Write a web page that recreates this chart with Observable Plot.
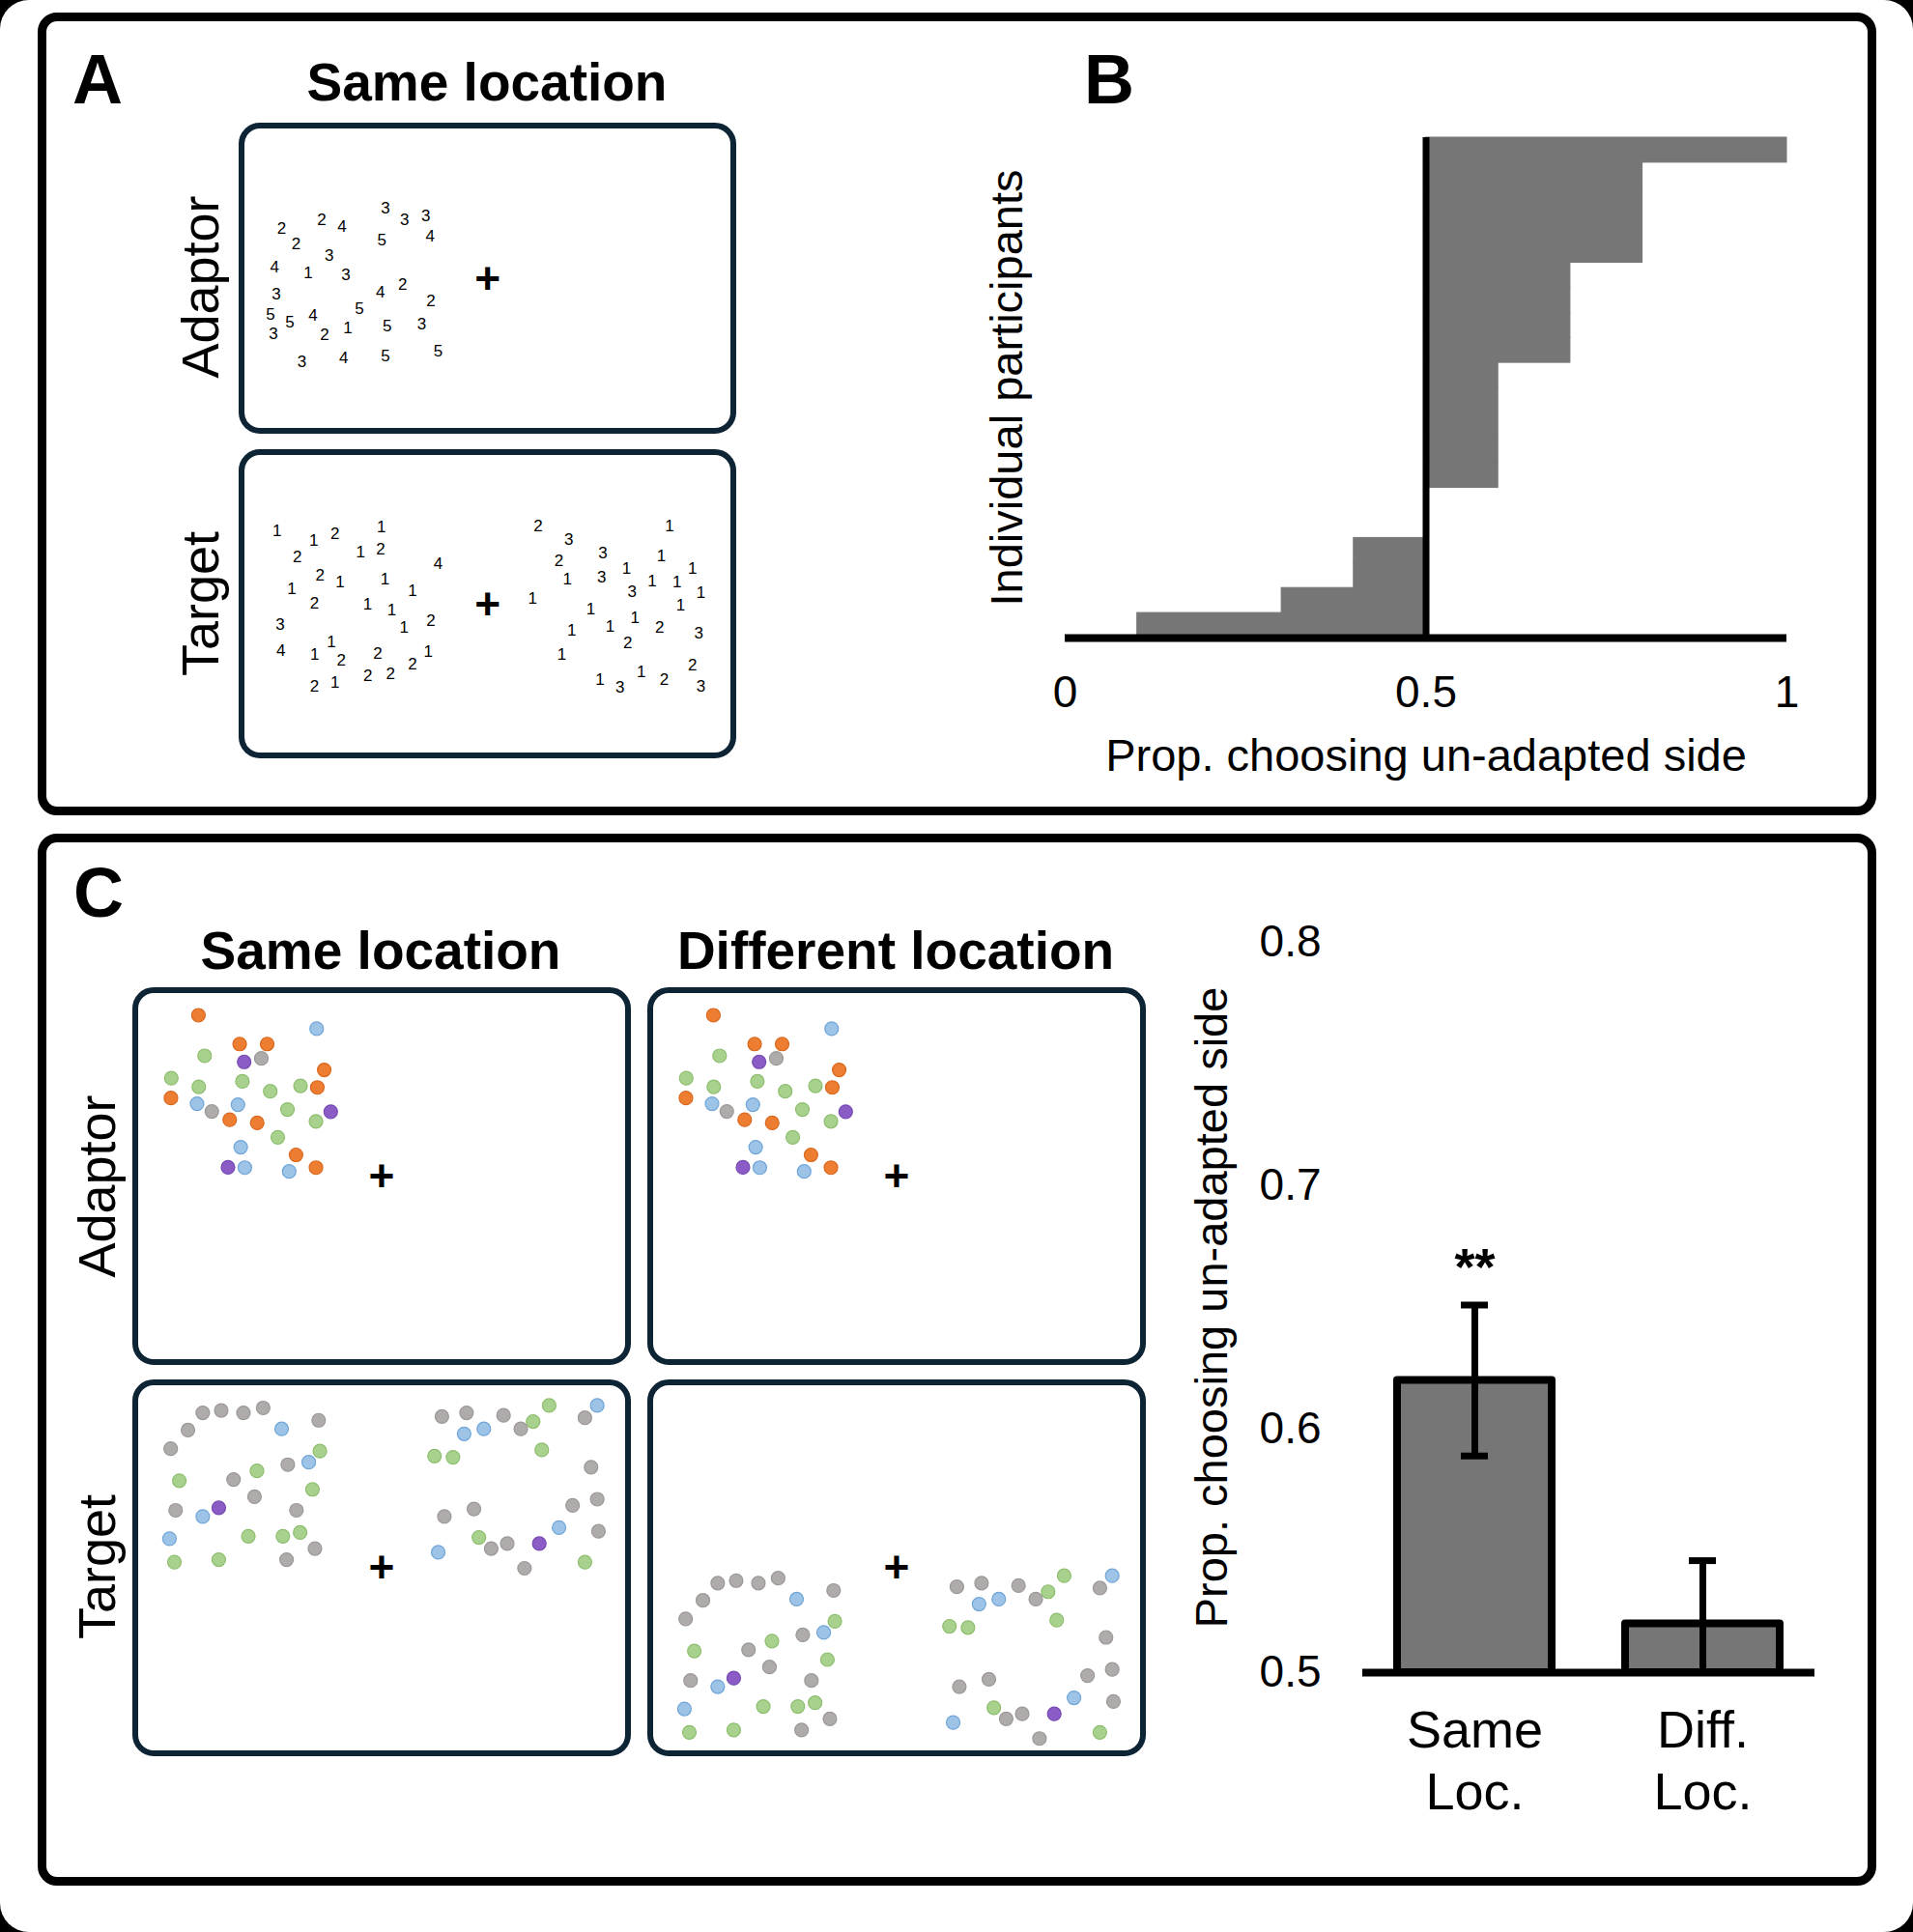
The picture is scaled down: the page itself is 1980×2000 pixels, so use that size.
<!DOCTYPE html>
<html><head><meta charset="utf-8">
<script src="https://cdn.jsdelivr.net/npm/d3@7"></script>
<script src="https://cdn.jsdelivr.net/npm/@observablehq/plot@0.6"></script>
<style>
html,body{margin:0;padding:0;background:#000;}
#page{position:relative;width:1980px;height:2000px;background:#fff;border-radius:30px;overflow:hidden;font-family:"Liberation Sans",Arial,Helvetica,sans-serif;color:#000;}
.frame{position:absolute;border:9px solid #000;border-radius:20px;box-sizing:border-box;}
.box{position:absolute;border:6px solid #0c2433;border-radius:22px;box-sizing:border-box;overflow:hidden;background:#fff;}
.box svg{display:block;}
.lbl{position:absolute;white-space:nowrap;line-height:1;}
.abs{position:absolute;}
.abs svg{overflow:visible;display:block;}
</style></head>
<body><div id="page"></div>
<script>
// ================= DATA =================
// Panel A: numeral stimuli. Positions are read in each stimulus screen's own frame.
const aAdaptorFrameX = [182, 1510], aAdaptorFrameY = [88, 1035];
const aAdaptorFix = [{x: 845, y: 565}];
const aAdaptorDigits = [
  {n:"2",x:282,y:402},{n:"2",x:392,y:375},{n:"4",x:447,y:397},{n:"3",x:566,y:338},{n:"3",x:618,y:375},
  {n:"3",x:676,y:362},{n:"5",x:556,y:438},{n:"4",x:688,y:427},{n:"2",x:322,y:453},{n:"3",x:412,y:488},
  {n:"4",x:263,y:525},{n:"1",x:355,y:542},{n:"3",x:458,y:550},{n:"4",x:552,y:605},{n:"2",x:613,y:580},
  {n:"2",x:690,y:633},{n:"3",x:268,y:611},{n:"5",x:495,y:655},{n:"5",x:252,y:675},{n:"5",x:305,y:698},
  {n:"4",x:368,y:678},{n:"3",x:260,y:737},{n:"2",x:400,y:740},{n:"1",x:463,y:718},{n:"5",x:571,y:710},
  {n:"3",x:665,y:705},{n:"5",x:710,y:790},{n:"3",x:338,y:823},{n:"4",x:452,y:812},{n:"5",x:566,y:806}
];
const aTargetFrameX = [182, 1510], aTargetFrameY = [88, 1030];
const aTargetFix = [{x: 845, y: 560}];
const aTargetDigits = [
  {n:"1",x:270,y:328},{n:"1",x:370,y:358},{n:"2",x:428,y:337},{n:"1",x:555,y:315},{n:"2",x:325,y:410},
  {n:"1",x:498,y:395},{n:"2",x:553,y:385},{n:"4",x:710,y:432},{n:"2",x:387,y:468},{n:"1",x:442,y:490},
  {n:"1",x:565,y:480},{n:"1",x:310,y:510},{n:"1",x:640,y:515},{n:"2",x:372,y:555},{n:"1",x:517,y:560},
  {n:"1",x:583,y:578},{n:"3",x:278,y:622},{n:"1",x:617,y:633},{n:"2",x:690,y:612},{n:"1",x:418,y:678},
  {n:"4",x:280,y:705},{n:"1",x:373,y:718},{n:"2",x:445,y:737},{n:"2",x:545,y:715},{n:"2",x:640,y:748},
  {n:"1",x:683,y:710},{n:"2",x:372,y:820},{n:"1",x:428,y:808},{n:"2",x:518,y:786},{n:"2",x:580,y:778},
  {n:"2",x:983,y:312},{n:"3",x:1067,y:355},{n:"3",x:1160,y:396},{n:"1",x:1342,y:312},{n:"2",x:1040,y:420},
  {n:"1",x:1320,y:405},{n:"1",x:1225,y:445},{n:"1",x:1405,y:445},{n:"1",x:1063,y:480},{n:"3",x:1157,y:475},
  {n:"1",x:1295,y:487},{n:"1",x:1363,y:490},{n:"3",x:1240,y:518},{n:"1",x:1428,y:522},{n:"1",x:968,y:540},
  {n:"1",x:1127,y:575},{n:"1",x:1373,y:563},{n:"1",x:1075,y:642},{n:"1",x:1180,y:628},{n:"1",x:1248,y:603},
  {n:"2",x:1315,y:633},{n:"2",x:1228,y:682},{n:"3",x:1422,y:650},{n:"1",x:1048,y:718},{n:"2",x:1405,y:752},
  {n:"1",x:1265,y:773},{n:"1",x:1152,y:798},{n:"3",x:1207,y:823},{n:"2",x:1328,y:797},{n:"3",x:1428,y:818}
];

// Panel B: each participant's proportion choosing the un-adapted side (sorted)
const participantProps = [0.1, 0.3, 0.4, 0.4, 0.5, 0.5, 0.6, 0.6, 0.6, 0.6, 0.6,
                          0.7, 0.7, 0.7, 0.7, 0.8, 0.8, 0.8, 0.8, 1.0];
const bTicks = [0, 0.5, 1];
const bChance = 0.5;

// Panel C: colour-dot stimuli (o orange, b blue, g green, p purple, k gray)
const cAdaptorFrameX = [118, 1535], cAdaptorFrameY = [82, 1228];
const cAdaptorFix = [{x: 825, y: 657}];
const cAdaptorDots = [
  {c:"o",x:292,y:150},{c:"b",x:636,y:192},{c:"o",x:412,y:240},{c:"o",x:492,y:240},{c:"g",x:310,y:277},
  {c:"p",x:425,y:296},{c:"k",x:475,y:285},{c:"o",x:658,y:321},{c:"g",x:213,y:347},{c:"g",x:293,y:374},
  {c:"g",x:420,y:357},{c:"g",x:501,y:388},{c:"g",x:589,y:371},{c:"o",x:638,y:376},{c:"o",x:212,y:409},
  {c:"b",x:288,y:427},{c:"k",x:331,y:451},{c:"b",x:407,y:430},{c:"g",x:551,y:445},{c:"p",x:677,y:452},
  {c:"o",x:383,y:477},{c:"o",x:463,y:487},{c:"g",x:634,y:482},{c:"g",x:523,y:532},{c:"b",x:415,y:563},
  {c:"o",x:576,y:587},{c:"p",x:378,y:626},{c:"b",x:427,y:627},{c:"b",x:556,y:639},{c:"o",x:634,y:627}
];
const cTargetFrameX = [112, 507], cTargetFrameY = [1124, 1420];
const cTargetFix = [{x: 309, y: 1272}];
const cTargetDots = [
  {c:"k",x:138,y:1175},{c:"k",x:152,y:1160},{c:"k",x:164,y:1146},{c:"k",x:179,y:1144},{c:"k",x:197,y:1146},
  {c:"k",x:213,y:1142},{c:"k",x:258,y:1152},{c:"b",x:228,y:1159},{c:"g",x:259,y:1177},{c:"k",x:233,y:1188},
  {c:"b",x:250,y:1186},{c:"g",x:145,y:1201},{c:"g",x:208,y:1193},{c:"k",x:189,y:1200},{c:"g",x:253,y:1208},
  {c:"k",x:206,y:1214},{c:"k",x:142,y:1225},{c:"b",x:164,y:1230},{c:"p",x:177,y:1223},{c:"k",x:240,y:1225},
  {c:"b",x:137,y:1248},{c:"g",x:201,y:1246},{c:"g",x:229,y:1246},{c:"g",x:243,y:1243},{c:"k",x:255,y:1256},
  {c:"g",x:141,y:1267},{c:"g",x:177,y:1265},{c:"k",x:232,y:1265},
  {c:"k",x:358,y:1149},{c:"k",x:378,y:1146},{c:"b",x:376,y:1163},{c:"b",x:392,y:1159},{c:"k",x:408,y:1148},
  {c:"k",x:422,y:1159},{c:"g",x:445,y:1140},{c:"g",x:432,y:1153},{c:"b",x:484,y:1140},{c:"k",x:474,y:1150},
  {c:"g",x:352,y:1181},{c:"g",x:367,y:1182},{c:"g",x:439,y:1176},{c:"k",x:479,y:1190},{c:"k",x:384,y:1224},
  {c:"k",x:464,y:1221},{c:"k",x:484,y:1216},{c:"b",x:453,y:1239},{c:"k",x:360,y:1230},{c:"g",x:388,y:1247},
  {c:"k",x:398,y:1256},{c:"k",x:411,y:1252},{c:"p",x:437,y:1252},{c:"k",x:485,y:1242},{c:"b",x:355,y:1259},
  {c:"k",x:425,y:1272},{c:"g",x:474,y:1267}
];
// In the different-location condition the same target pattern is shown lower on the screen
const diffLocationShiftY = 138;

// Panel C bar chart
const conditions = ["Same Loc.", "Diff. Loc."];
const conditionLabels = ["Same\nLoc.", "Diff.\nLoc."];
const meanProp = [0.62, 0.52];
const semProp = [0.031, 0.026];
const sigLabels = ["**", ""];
const cTicks = [0.5, 0.6, 0.7, 0.8];

// ================= STYLE =================
const FONT = '"Liberation Sans", Arial, Helvetica, sans-serif';
const DOT_FILL = {o:"#ED7D31", b:"#9DC3E6", g:"#A9D18E", p:"#8B5CC6", k:"#AFABAB"};
const DOT_STROKE = {o:"#D9691F", b:"#6FA5D8", g:"#8DBE6E", p:"#7548B2", k:"#9C9898"};
const page = document.getElementById("page");

function el(cls, css, text) {
  const d = document.createElement("div");
  d.className = cls;
  Object.assign(d.style, css);
  if (text != null) d.textContent = text;
  page.appendChild(d);
  return d;
}
// horizontal text positioned by its baseline
function textAt(text, {x, base, size, bold = false, anchor = "start"}) {
  return el("lbl", {left: x + "px", top: (base - 0.847 * size) + "px", fontSize: size + "px",
    fontWeight: bold ? "bold" : "normal", transform: anchor === "middle" ? "translateX(-50%)" : "none"}, text);
}
function rotatedAt(text, {cx, cy, size}) {
  el("lbl", {left: cx + "px", top: cy + "px", fontSize: size + "px",
    transform: "translate(-50%,-50%) rotate(-90deg)"}, text);
}

// ---- panel frames
el("frame", {left: "39px", top: "13px", width: "1903px", height: "831px"});
el("frame", {left: "39px", top: "863px", width: "1903px", height: "1089px"});

// ---- letters & headings
textAt("A", {x: 75, base: 107, size: 72, bold: true});
textAt("B", {x: 1122, base: 107, size: 72, bold: true});
textAt("C", {x: 76, base: 949, size: 72, bold: true});
textAt("Same location", {x: 504, base: 105, size: 55, bold: true, anchor: "middle"});
textAt("Same location", {x: 394, base: 1004, size: 55, bold: true, anchor: "middle"});
textAt("Different location", {x: 927, base: 1004, size: 55, bold: true, anchor: "middle"});
rotatedAt("Adaptor", {cx: 207, cy: 297, size: 54});
rotatedAt("Target", {cx: 207, cy: 625, size: 54});
rotatedAt("Adaptor", {cx: 100, cy: 1228, size: 54});
rotatedAt("Target", {cx: 100, cy: 1622, size: 54});

// ---- stimulus boxes
function stimulusBox(left, top, w, h, frameX, frameY, marks) {
  const box = el("box", {left: left + "px", top: top + "px", width: w + "px", height: h + "px"});
  box.appendChild(Plot.plot({
    width: w - 12, height: h - 12, margin: 0,
    x: {domain: frameX, axis: null},
    y: {domain: frameY, reverse: true, axis: null},
    style: {fontFamily: FONT, color: "#000", background: "transparent"},
    marks
  }));
}
const fixMark = (fix) => Plot.text(fix, {x: "x", y: "y", text: () => "+", fontSize: 46, fontWeight: "bold", fill: "#000"});
const digitMark = (data) => Plot.text(data, {x: "x", y: "y", text: "n", fontSize: 17, fill: "#000"});
const dotMark = (data) => Plot.dot(data, {x: "x", y: "y", r: 7, fill: d => DOT_FILL[d.c], stroke: d => DOT_STROKE[d.c], strokeWidth: 1.2});

stimulusBox(247, 127, 515, 322, aAdaptorFrameX, aAdaptorFrameY, [digitMark(aAdaptorDigits), fixMark(aAdaptorFix)]);
stimulusBox(247, 465, 515, 320, aTargetFrameX, aTargetFrameY, [digitMark(aTargetDigits), fixMark(aTargetFix)]);

stimulusBox(137, 1022, 516, 391, cAdaptorFrameX, cAdaptorFrameY, [dotMark(cAdaptorDots), fixMark(cAdaptorFix)]);
stimulusBox(670, 1022, 516, 391, cAdaptorFrameX, cAdaptorFrameY, [dotMark(cAdaptorDots), fixMark(cAdaptorFix)]);
stimulusBox(137, 1428, 516, 390, cTargetFrameX, cTargetFrameY, [dotMark(cTargetDots), fixMark(cTargetFix)]);
const cTargetDotsLower = cTargetDots.map(d => ({...d, y: d.y + diffLocationShiftY}));
stimulusBox(670, 1428, 516, 390, cTargetFrameX, cTargetFrameY, [dotMark(cTargetDotsLower), fixMark(cTargetFix)]);

// ---- Panel B: individual participants
const bHolder = el("abs", {left: "980px", top: "120px"});
bHolder.appendChild(Plot.plot({
  width: 929, height: 700, marginLeft: 122, marginRight: 60, marginTop: 22, marginBottom: 160,
  style: {fontFamily: FONT, fontSize: "46px", color: "#000", background: "transparent", overflow: "visible"},
  x: {domain: [0, 1], ticks: bTicks, tickSize: 0, tickPadding: 39, tickFormat: d => String(d), label: null},
  y: {domain: [0, participantProps.length], axis: null},
  marks: [
    Plot.rectX(participantProps, {x1: () => bChance, x2: d => d, y1: (d, i) => i, y2: (d, i) => i + 1,
      fill: "#767676", stroke: "#767676", strokeWidth: 1}),
    Plot.ruleX([bChance], {y1: () => 0, y2: () => participantProps.length, stroke: "#000", strokeWidth: 7}),
    Plot.ruleY([0], {x1: () => 0, x2: () => 1, stroke: "#000", strokeWidth: 8}),
    Plot.text(["Prop. choosing un-adapted side"], {frameAnchor: "bottom", dy: 122, lineAnchor: "middle", textAnchor: "middle", fontSize: 47, fill: "#000"}),
    Plot.text(["Individual participants"], {frameAnchor: "left", dx: -60, rotate: -90, lineAnchor: "middle", textAnchor: "middle", fontSize: 47, fill: "#000"})
  ]
}));

// ---- Panel C: bar chart
const cData = conditions.map((c, i) => ({cond: c, label: conditionLabels[i], mean: meanProp[i], sem: semProp[i], sig: sigLabels[i]}));
const cHolder = el("abs", {left: "1230px", top: "930px"});
cHolder.appendChild(Plot.plot({
  width: 688, height: 981, marginLeft: 180, marginRight: 40, marginTop: 45, marginBottom: 180,
  style: {fontFamily: FONT, fontSize: "46px", color: "#000", background: "transparent", overflow: "visible"},
  x: {domain: conditions, paddingInner: 0.32, paddingOuter: 0.15, axis: null},
  y: {domain: [0.5, 0.8], ticks: cTicks, tickSize: 0, tickPadding: 43, tickFormat: d3.format(".1f"), label: null},
  marks: [
    Plot.barY(cData, {x: "cond", y1: () => 0.5, y2: "mean", fill: "#767676", stroke: "#000", strokeWidth: 8, strokeLinejoin: "round"}),
    Plot.ruleY([0.5], {stroke: "#000", strokeWidth: 8}),
    Plot.ruleX(cData, {x: "cond", y1: d => d.mean - d.sem, y2: d => d.mean + d.sem, stroke: "#000", strokeWidth: 7, clip: true}),
    Plot.tickY(cData, {x: "cond", y: d => d.mean + d.sem, insetLeft: 66, insetRight: 66, stroke: "#000", strokeWidth: 7}),
    Plot.tickY(cData, {x: "cond", y: d => d.mean - d.sem, insetLeft: 66, insetRight: 66, stroke: "#000", strokeWidth: 7, clip: true}),
    Plot.text(cData, {x: "cond", y: d => d.mean + d.sem, text: "sig", dy: -38, lineAnchor: "middle", fontSize: 54, fontWeight: "bold", fill: "#000"}),
    Plot.text(cData, {x: "cond", text: "label", frameAnchor: "bottom", dy: 31, lineAnchor: "top", fontSize: 54, lineHeight: 1.2, fill: "#000"}),
    Plot.text(["Prop. choosing un-adapted side"], {frameAnchor: "left", dx: -156, rotate: -90, lineAnchor: "middle", textAnchor: "middle", fontSize: 47, fill: "#000"})
  ]
}));
</script>
</body></html>
